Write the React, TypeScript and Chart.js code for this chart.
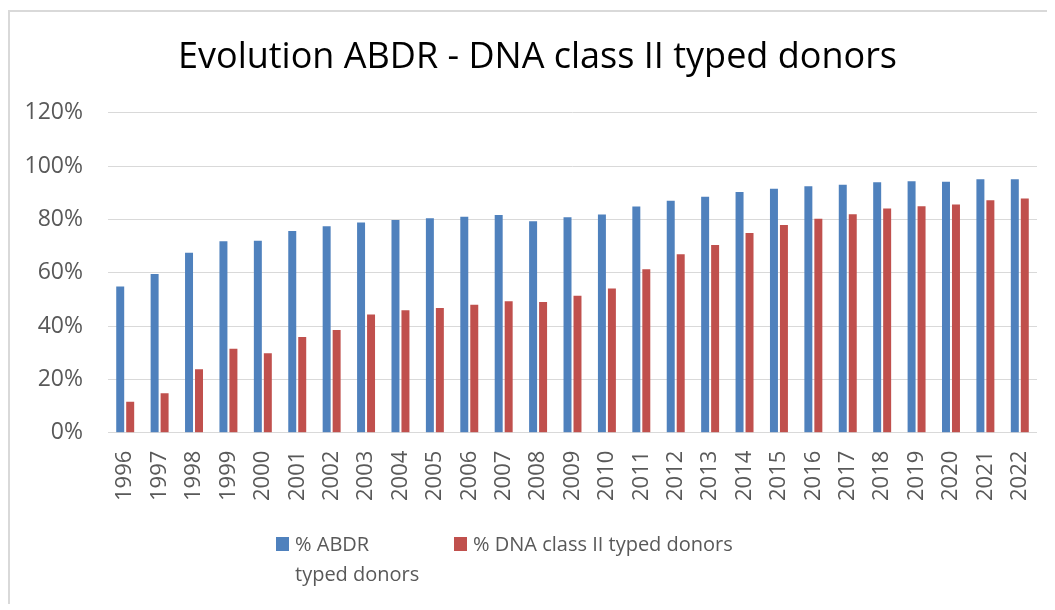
import React, { useEffect, useRef } from "react";
import { Chart, registerables } from "chart.js";

Chart.register(...registerables);

const years = ["1996","1997","1998","1999","2000","2001","2002","2003","2004","2005","2006","2007","2008","2009","2010","2011","2012","2013","2014","2015","2016","2017","2018","2019","2020","2021","2022"];
const abdrTyped = [54.8,59.5,67.5,71.8,72.0,75.6,77.4,78.8,79.8,80.4,81.0,81.6,79.3,80.8,81.8,84.8,87.0,88.5,90.3,91.5,92.4,93.0,93.9,94.3,94.1,95.0,95.0];
const dnaClassII = [11.6,14.8,23.8,31.5,29.8,35.9,38.5,44.3,45.9,46.8,48.0,49.3,49.0,51.4,54.1,61.3,66.9,70.4,74.9,77.9,80.2,81.9,84.1,84.9,85.6,87.2,87.8];
const seriesNames = [["% ABDR", "typed donors"], ["% DNA class II typed donors"]];
const titleText = "Evolution ABDR - DNA class II typed donors";

const FONT = "'Open Sans', 'Noto Sans', sans-serif";
const BLUE = "#4f81bd";
const RED = "#c0504d";

const titleLegendPlugin = {
  id: "titleLegend",
  afterDraw(chart: any) {
    const ctx = chart.ctx;
    ctx.save();
    // title
    ctx.font = `36px ${FONT}`;
    ctx.fillStyle = "#000000";
    ctx.textAlign = "center";
    ctx.textBaseline = "middle";
    ctx.fillText(titleText, 527.5, 46);
    // legend
    ctx.font = `20px ${FONT}`;
    ctx.textBaseline = "alphabetic";
    ctx.textAlign = "left";
    const items = [
      { color: BLUE, x: 266, lines: seriesNames[0] },
      { color: RED, x: 444, lines: seriesNames[1] },
    ];
    for (const it of items) {
      ctx.fillStyle = it.color;
      ctx.fillRect(it.x, 525, 13, 14);
      ctx.fillStyle = "#595959";
      it.lines.forEach((ln: string, i: number) => {
        ctx.fillText(ln, it.x + 19, 539 + i * 30);
      });
    }
    ctx.restore();
  },
};

export default function App() {
  const ref = useRef<HTMLCanvasElement>(null);
  useEffect(() => {
    if (!ref.current) return;
    const chart = new Chart(ref.current, {
      type: "bar",
      data: {
        labels: years,
        datasets: [
          { label: "% ABDR typed donors", data: abdrTyped, backgroundColor: BLUE, barPercentage: 0.8, categoryPercentage: 0.58 },
          { label: "% DNA class II typed donors", data: dnaClassII, backgroundColor: RED, barPercentage: 0.8, categoryPercentage: 0.58 },
        ],
      },
      options: {
        animation: false,
        responsive: false,
        maintainAspectRatio: false,
        layout: { padding: { left: 0, right: 10, top: 100.7, bottom: 100 } },
        plugins: {
          legend: { display: false },
          tooltip: { enabled: false },
          title: { display: false },
        },
        scales: {
          x: {
            grid: { display: false, drawTicks: false },
            border: { display: false },
            ticks: {
              color: "#595959",
              font: { family: FONT, size: 22 },
              minRotation: 90,
              maxRotation: 90,
              padding: 18,
              autoSkip: false,
            },
            afterFit(scale: any) {
              scale.height = 71.3;
              scale.paddingLeft = 0;
              scale.paddingRight = 0;
            },
          },
          y: {
            min: 0,
            max: 120,
            grid: { color: "#d9d9d9", lineWidth: 1, drawTicks: false },
            border: { display: false },
            ticks: {
              stepSize: 20,
              color: "#595959",
              font: { family: FONT, size: 23 },
              padding: 25,
              callback: (v: any) => v + "%",
            },
            afterFit(scale: any) {
              scale.width = 98;
              scale.paddingTop = 0;
              scale.paddingBottom = 0;
            },
          },
        },
      },
      plugins: [titleLegendPlugin],
    });
    return () => chart.destroy();
  }, []);
  return (
    <div style={{ marginTop: 2, borderLeft: "2px solid #d9d9d9", borderTop: "2px solid #d9d9d9", height: 592 }}>
      <canvas ref={ref} width={1037} height={592} style={{ display: "block" }} />
    </div>
  );
}
